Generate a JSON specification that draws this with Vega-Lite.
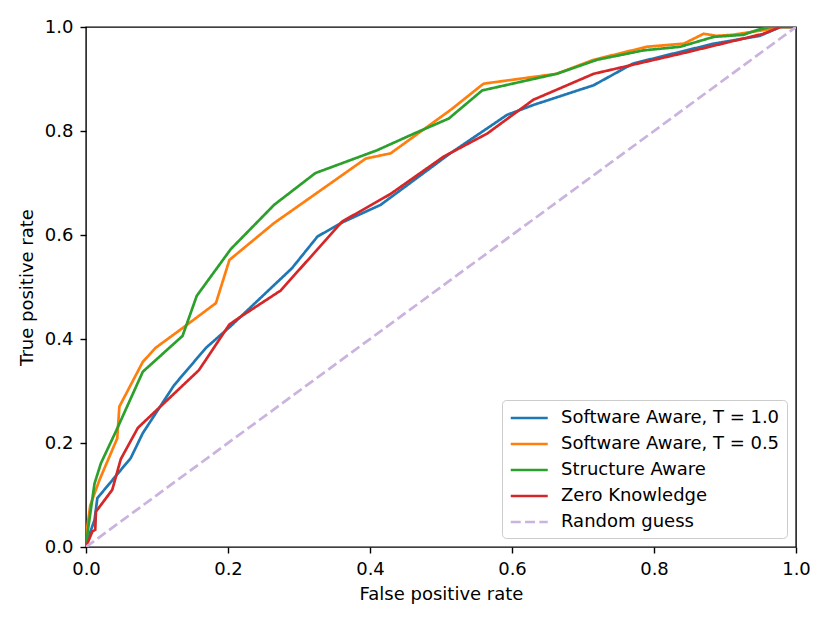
{
  "$schema": "https://vega.github.io/schema/vega-lite/v6.json",
  "width": 710,
  "height": 520,
  "autosize": {"type": "none"},
  "padding": {"left": 86, "top": 27, "right": 34, "bottom": 76},
  "background": "white",
  "config": {
    "font": "DejaVu Sans",
    "view": {"stroke": "black", "strokeWidth": 1.4},
    "axis": {
      "domain": false,
      "grid": false,
      "ticks": true,
      "tickSize": 6,
      "tickWidth": 1.4,
      "tickColor": "black",
      "labelFontSize": 18,
      "labelColor": "black",
      "labelFlush": false,
      "labelOverlap": false,
      "titleFontSize": 18,
      "titleFontWeight": "normal",
      "titleColor": "black",
      "labelFont": "DejaVu Sans",
      "titleFont": "DejaVu Sans"
    }
  },
  "data": {
    "values": [
      {"s": "Software Aware, T = 1.0", "x": 0, "y": 0},
      {"s": "Software Aware, T = 1.0", "x": 0.002, "y": 0.013},
      {"s": "Software Aware, T = 1.0", "x": 0.012, "y": 0.052},
      {"s": "Software Aware, T = 1.0", "x": 0.016, "y": 0.094},
      {"s": "Software Aware, T = 1.0", "x": 0.063, "y": 0.171},
      {"s": "Software Aware, T = 1.0", "x": 0.08, "y": 0.219},
      {"s": "Software Aware, T = 1.0", "x": 0.124, "y": 0.311},
      {"s": "Software Aware, T = 1.0", "x": 0.169, "y": 0.383},
      {"s": "Software Aware, T = 1.0", "x": 0.204, "y": 0.425},
      {"s": "Software Aware, T = 1.0", "x": 0.29, "y": 0.536},
      {"s": "Software Aware, T = 1.0", "x": 0.326, "y": 0.597},
      {"s": "Software Aware, T = 1.0", "x": 0.359, "y": 0.623},
      {"s": "Software Aware, T = 1.0", "x": 0.415, "y": 0.658},
      {"s": "Software Aware, T = 1.0", "x": 0.513, "y": 0.757},
      {"s": "Software Aware, T = 1.0", "x": 0.593, "y": 0.831},
      {"s": "Software Aware, T = 1.0", "x": 0.63, "y": 0.85},
      {"s": "Software Aware, T = 1.0", "x": 0.715, "y": 0.888},
      {"s": "Software Aware, T = 1.0", "x": 0.771, "y": 0.93},
      {"s": "Software Aware, T = 1.0", "x": 0.884, "y": 0.968},
      {"s": "Software Aware, T = 1.0", "x": 0.949, "y": 0.983},
      {"s": "Software Aware, T = 1.0", "x": 0.978, "y": 1.0},
      {"s": "Software Aware, T = 1.0", "x": 1, "y": 1},

      {"s": "Software Aware, T = 0.5", "x": 0, "y": 0},
      {"s": "Software Aware, T = 0.5", "x": 0.002, "y": 0.04},
      {"s": "Software Aware, T = 0.5", "x": 0.006, "y": 0.08},
      {"s": "Software Aware, T = 0.5", "x": 0.019, "y": 0.129},
      {"s": "Software Aware, T = 0.5", "x": 0.044, "y": 0.209},
      {"s": "Software Aware, T = 0.5", "x": 0.047, "y": 0.27},
      {"s": "Software Aware, T = 0.5", "x": 0.08, "y": 0.356},
      {"s": "Software Aware, T = 0.5", "x": 0.098, "y": 0.383},
      {"s": "Software Aware, T = 0.5", "x": 0.134, "y": 0.419},
      {"s": "Software Aware, T = 0.5", "x": 0.183, "y": 0.469},
      {"s": "Software Aware, T = 0.5", "x": 0.202, "y": 0.552},
      {"s": "Software Aware, T = 0.5", "x": 0.265, "y": 0.623},
      {"s": "Software Aware, T = 0.5", "x": 0.394, "y": 0.747},
      {"s": "Software Aware, T = 0.5", "x": 0.429, "y": 0.757},
      {"s": "Software Aware, T = 0.5", "x": 0.513, "y": 0.84},
      {"s": "Software Aware, T = 0.5", "x": 0.56, "y": 0.891},
      {"s": "Software Aware, T = 0.5", "x": 0.663, "y": 0.91},
      {"s": "Software Aware, T = 0.5", "x": 0.715, "y": 0.937},
      {"s": "Software Aware, T = 0.5", "x": 0.79, "y": 0.962},
      {"s": "Software Aware, T = 0.5", "x": 0.842, "y": 0.968},
      {"s": "Software Aware, T = 0.5", "x": 0.87, "y": 0.987},
      {"s": "Software Aware, T = 0.5", "x": 0.888, "y": 0.983},
      {"s": "Software Aware, T = 0.5", "x": 0.911, "y": 0.985},
      {"s": "Software Aware, T = 0.5", "x": 0.954, "y": 0.994},
      {"s": "Software Aware, T = 0.5", "x": 0.98, "y": 1.0},
      {"s": "Software Aware, T = 0.5", "x": 1, "y": 1},

      {"s": "Structure Aware", "x": 0, "y": 0},
      {"s": "Structure Aware", "x": 0.003, "y": 0.035},
      {"s": "Structure Aware", "x": 0.012, "y": 0.122},
      {"s": "Structure Aware", "x": 0.021, "y": 0.161},
      {"s": "Structure Aware", "x": 0.042, "y": 0.222},
      {"s": "Structure Aware", "x": 0.08, "y": 0.337},
      {"s": "Structure Aware", "x": 0.136, "y": 0.406},
      {"s": "Structure Aware", "x": 0.156, "y": 0.483},
      {"s": "Structure Aware", "x": 0.204, "y": 0.573},
      {"s": "Structure Aware", "x": 0.265, "y": 0.658},
      {"s": "Structure Aware", "x": 0.323, "y": 0.719},
      {"s": "Structure Aware", "x": 0.41, "y": 0.763},
      {"s": "Structure Aware", "x": 0.462, "y": 0.795},
      {"s": "Structure Aware", "x": 0.511, "y": 0.824},
      {"s": "Structure Aware", "x": 0.558, "y": 0.878},
      {"s": "Structure Aware", "x": 0.663, "y": 0.91},
      {"s": "Structure Aware", "x": 0.72, "y": 0.937},
      {"s": "Structure Aware", "x": 0.785, "y": 0.955},
      {"s": "Structure Aware", "x": 0.837, "y": 0.962},
      {"s": "Structure Aware", "x": 0.884, "y": 0.981},
      {"s": "Structure Aware", "x": 0.926, "y": 0.985},
      {"s": "Structure Aware", "x": 0.945, "y": 0.994},
      {"s": "Structure Aware", "x": 0.963, "y": 1.0},
      {"s": "Structure Aware", "x": 1, "y": 1},

      {"s": "Zero Knowledge", "x": 0, "y": 0},
      {"s": "Zero Knowledge", "x": 0.009, "y": 0.03},
      {"s": "Zero Knowledge", "x": 0.013, "y": 0.033},
      {"s": "Zero Knowledge", "x": 0.014, "y": 0.068},
      {"s": "Zero Knowledge", "x": 0.037, "y": 0.11},
      {"s": "Zero Knowledge", "x": 0.049, "y": 0.169},
      {"s": "Zero Knowledge", "x": 0.073, "y": 0.229},
      {"s": "Zero Knowledge", "x": 0.159, "y": 0.34},
      {"s": "Zero Knowledge", "x": 0.202, "y": 0.428},
      {"s": "Zero Knowledge", "x": 0.218, "y": 0.443},
      {"s": "Zero Knowledge", "x": 0.274, "y": 0.493},
      {"s": "Zero Knowledge", "x": 0.361, "y": 0.626},
      {"s": "Zero Knowledge", "x": 0.429, "y": 0.679},
      {"s": "Zero Knowledge", "x": 0.504, "y": 0.751},
      {"s": "Zero Knowledge", "x": 0.565, "y": 0.795},
      {"s": "Zero Knowledge", "x": 0.63, "y": 0.86},
      {"s": "Zero Knowledge", "x": 0.715, "y": 0.91},
      {"s": "Zero Knowledge", "x": 0.842, "y": 0.95},
      {"s": "Zero Knowledge", "x": 0.954, "y": 0.987},
      {"s": "Zero Knowledge", "x": 0.978, "y": 1.0},
      {"s": "Zero Knowledge", "x": 1, "y": 1},

      {"s": "Random guess", "x": 0, "y": 0},
      {"s": "Random guess", "x": 1, "y": 1}
    ]
  },
  "mark": {"type": "line", "strokeWidth": 2.7, "clip": true},
  "encoding": {
    "x": {
      "field": "x",
      "type": "quantitative",
      "scale": {"domain": [0, 1], "nice": false},
      "axis": {"values": [0, 0.2, 0.4, 0.6, 0.8, 1.0], "format": ".1f", "title": "False positive rate", "labelPadding": 7, "titlePadding": 7}
    },
    "y": {
      "field": "y",
      "type": "quantitative",
      "scale": {"domain": [0, 1], "nice": false},
      "axis": {"values": [0, 0.2, 0.4, 0.6, 0.8, 1.0], "format": ".1f", "title": "True positive rate", "labelPadding": 7, "titlePadding": 8}
    },
    "color": {
      "field": "s",
      "type": "nominal",
      "scale": {
        "domain": ["Software Aware, T = 1.0", "Software Aware, T = 0.5", "Structure Aware", "Zero Knowledge", "Random guess"],
        "range": ["#1f77b4", "#ff7f0e", "#2ca02c", "#d62728", "#cab3de"]
      },
      "legend": {
        "title": null,
        "orient": "bottom-right",
        "offset": 9,
        "padding": 7,
        "symbolType": "M-1,0H3",
        "symbolSize": 342,
        "symbolStrokeWidth": 2.7,
        "labelFontSize": 18,
        "labelColor": "black",
        "labelOffset": 30,
        "labelLimit": 400,
        "rowPadding": 6,
        "strokeColor": "#cccccc",
        "fillColor": "rgba(255,255,255,0.8)",
        "cornerRadius": 4
      }
    },
    "strokeDash": {
      "field": "s",
      "type": "nominal",
      "scale": {
        "domain": ["Software Aware, T = 1.0", "Software Aware, T = 0.5", "Structure Aware", "Zero Knowledge", "Random guess"],
        "range": [[1, 0], [1, 0], [1, 0], [1, 0], [10, 4.3]]
      },
      "legend": {
        "title": null,
        "orient": "bottom-right",
        "offset": 9,
        "padding": 7,
        "symbolType": "M-1,0H3",
        "symbolSize": 342,
        "symbolStrokeWidth": 2.7,
        "labelFontSize": 18,
        "labelColor": "black",
        "labelOffset": 30,
        "labelLimit": 400,
        "rowPadding": 6,
        "strokeColor": "#cccccc",
        "fillColor": "rgba(255,255,255,0.8)",
        "cornerRadius": 4
      }
    }
  }
}
